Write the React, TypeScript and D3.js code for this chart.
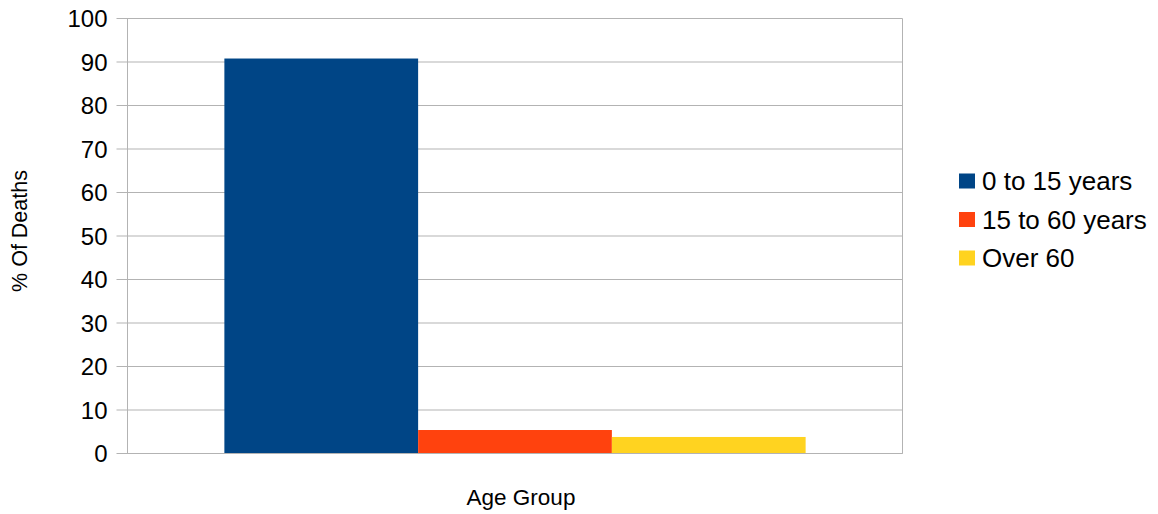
import React from "react";
import * as d3 from "d3";

const categories = ["Age Group"];
const seriesNames = ["0 to 15 years", "15 to 60 years", "Over 60"];
const seriesValues = [90.8, 5.4, 3.8];
const seriesColors = ["#004586", "#ff420e", "#ffd320"];
const yTicks = [0, 10, 20, 30, 40, 50, 60, 70, 80, 90, 100];

const W = 1158;
const H = 514;
const plot = { left: 127.5, right: 902.5, top: 18.5, bottom: 453.5 };
const FONT = "'Liberation Sans', Arial, sans-serif";

export default function App() {
  const y = d3.scaleLinear().domain([0, 100]).range([plot.bottom, plot.top]);
  const x = d3
    .scaleBand<string>()
    .domain(categories)
    .range([plot.left, plot.right])
    .paddingInner(0)
    .paddingOuter(1 / 6);
  const xs = d3
    .scaleBand<string>()
    .domain(seriesNames)
    .range([0, x.bandwidth()])
    .padding(0);

  return (
    <svg
      width={W}
      height={H}
      style={{ position: "absolute", left: 0, top: 0, background: "#fff" }}
      fontFamily={FONT}
    >
      {/* horizontal gridlines */}
      {yTicks.map((t) => (
        <line
          key={`g${t}`}
          x1={plot.left - 11}
          x2={plot.right}
          y1={y(t)}
          y2={y(t)}
          stroke="#b3b3b3"
          strokeWidth={1}
        />
      ))}
      {/* right border */}
      <line x1={plot.right} x2={plot.right} y1={plot.top} y2={plot.bottom} stroke="#b3b3b3" />

      {/* bars */}
      {categories.map((c) =>
        seriesNames.map((s, i) => (
          <rect
            key={`${c}-${s}`}
            x={(x(c) ?? 0) + (xs(s) ?? 0)}
            y={y(seriesValues[i])}
            width={xs.bandwidth()}
            height={y(0) - y(seriesValues[i])}
            fill={seriesColors[i]}
          />
        ))
      )}

      {/* axes */}
      <line x1={plot.left} x2={plot.left} y1={plot.top} y2={plot.bottom} stroke="#b3b3b3" />
      <line x1={plot.left} x2={plot.right} y1={plot.bottom} y2={plot.bottom} stroke="#b3b3b3" />

      {/* y tick labels */}
      {yTicks.map((t) => (
        <text
          key={`l${t}`}
          x={plot.left - 20}
          y={y(t)}
          dy="0.36em"
          textAnchor="end"
          fontSize={24}
          fill="#000"
        >
          {t}
        </text>
      ))}

      {/* axis titles */}
      <text
        x={521}
        y={505}
        textAnchor="middle"
        fontSize={22.5}
        fill="#000"
      >
        {categories[0]}
      </text>
      <text
        transform={`translate(27,231) rotate(-90)`}
        textAnchor="middle"
        fontSize={21.5}
        fill="#000"
      >
        % Of Deaths
      </text>

      {/* legend */}
      {seriesNames.map((s, i) => (
        <g key={`leg${s}`} transform={`translate(959,${181 + i * 38.5})`}>
          <rect x={0} y={-7.5} width={16} height={15} fill={seriesColors[i]} />
          <text x={23} y={0} dy="0.36em" fontSize={26} fill="#000">
            {s}
          </text>
        </g>
      ))}
    </svg>
  );
}
